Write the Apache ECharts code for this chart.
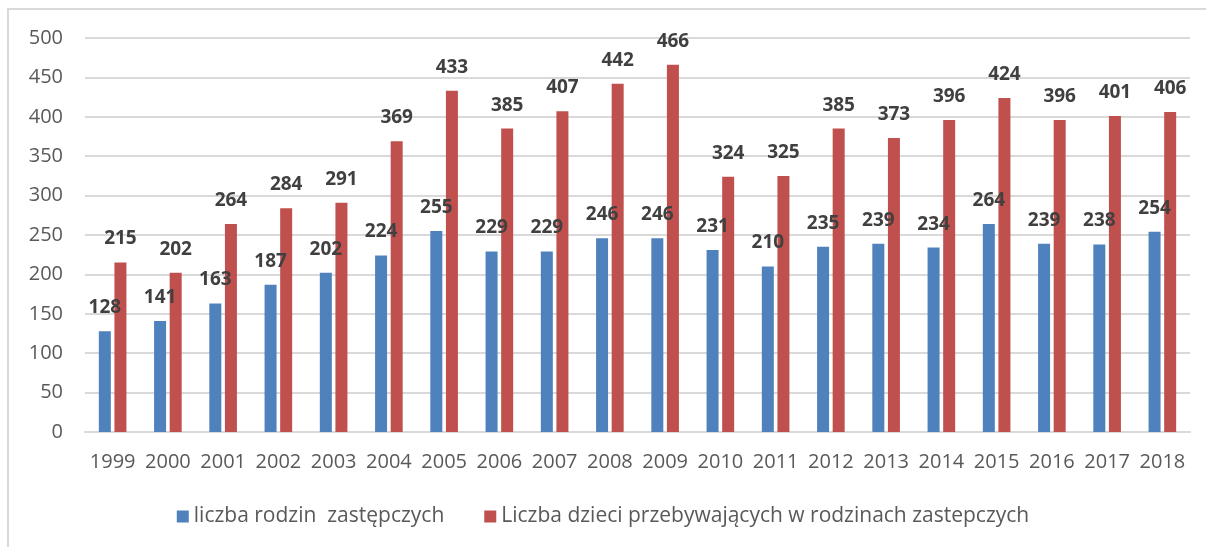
<!DOCTYPE html>
<html>
<head>
<meta charset="utf-8">
<script src="https://cdn.jsdelivr.net/npm/echarts@6/dist/echarts.min.js"></script>
<style>
  html, body { margin: 0; padding: 0; background: #fff; }
  #chart { width: 1206px; height: 547px; }
</style>
</head>
<body>
<div id="chart"></div>
<script>
const years = ['1999', '2000', '2001', '2002', '2003', '2004', '2005', '2006', '2007', '2008',
    '2009', '2010', '2011', '2012', '2013', '2014', '2015', '2016', '2017', '2018'];
const rodziny = [128, 141, 163, 187, 202, 224, 255, 229, 229, 246, 246, 231, 210, 235, 239, 234, 264, 239, 238, 254];
const dzieci = [215, 202, 264, 284, 291, 369, 433, 385, 407, 442, 466, 324, 325, 385, 373, 396, 424, 396, 401, 406];
const seriesNames = ['liczba rodzin  zastępczych', 'Liczba dzieci przebywających w rodzinach zastepczych'];

const chart = echarts.init(document.getElementById('chart'));
const fontFam = '"Open Sans", "Noto Sans", sans-serif';

// etykiety nad słupkami
const barLabel = {
    show: true,
    position: 'top',
    distance: 14,
    color: '#404040',
    fontSize: 19,
    fontWeight: 'bold',
    fontFamily: fontFam
};

const option = {
    animation: false,
    graphic: [
        {
            type: 'polyline',
            shape: { points: [[8, 547], [8, 9], [1206, 9]] },
            style: { stroke: '#d9d9d9', lineWidth: 2, fill: null }
        }
    ],
    legend: {
        bottom: 15,
        left: 'center',
        itemWidth: 12,
        itemHeight: 12,
        itemGap: 40,
        icon: 'rect',
        textStyle: { color: '#595959', fontSize: 21, fontFamily: fontFam },
        data: seriesNames
    },
    grid: { left: 85, right: 16, top: 38, bottom: 115 },
    xAxis: {
        type: 'category',
        data: years,
        axisTick: { show: false },
        axisLine: { lineStyle: { color: '#d9d9d9', width: 2 } },
        axisLabel: { color: '#595959', fontSize: 20, fontFamily: fontFam, margin: 20, interval: 0 }
    },
    yAxis: {
        type: 'value',
        min: 0,
        max: 500,
        interval: 50,
        axisLine: { show: false },
        axisTick: { show: false },
        splitLine: { lineStyle: { color: '#d9d9d9', width: 2 } },
        axisLabel: { color: '#595959', fontSize: 20, fontFamily: fontFam, margin: 22 }
    },
    series: [
        {
            name: seriesNames[0],
            type: 'bar',
            data: rodziny,
            barWidth: 12,
            barGap: '30%',
            itemStyle: { color: '#4f81bd' },
            label: barLabel
        },
        {
            name: seriesNames[1],
            type: 'bar',
            data: dzieci,
            barWidth: 12,
            itemStyle: { color: '#c0504d' },
            label: barLabel
        }
    ]
};

chart.setOption(option);
</script>
</body>
</html>
